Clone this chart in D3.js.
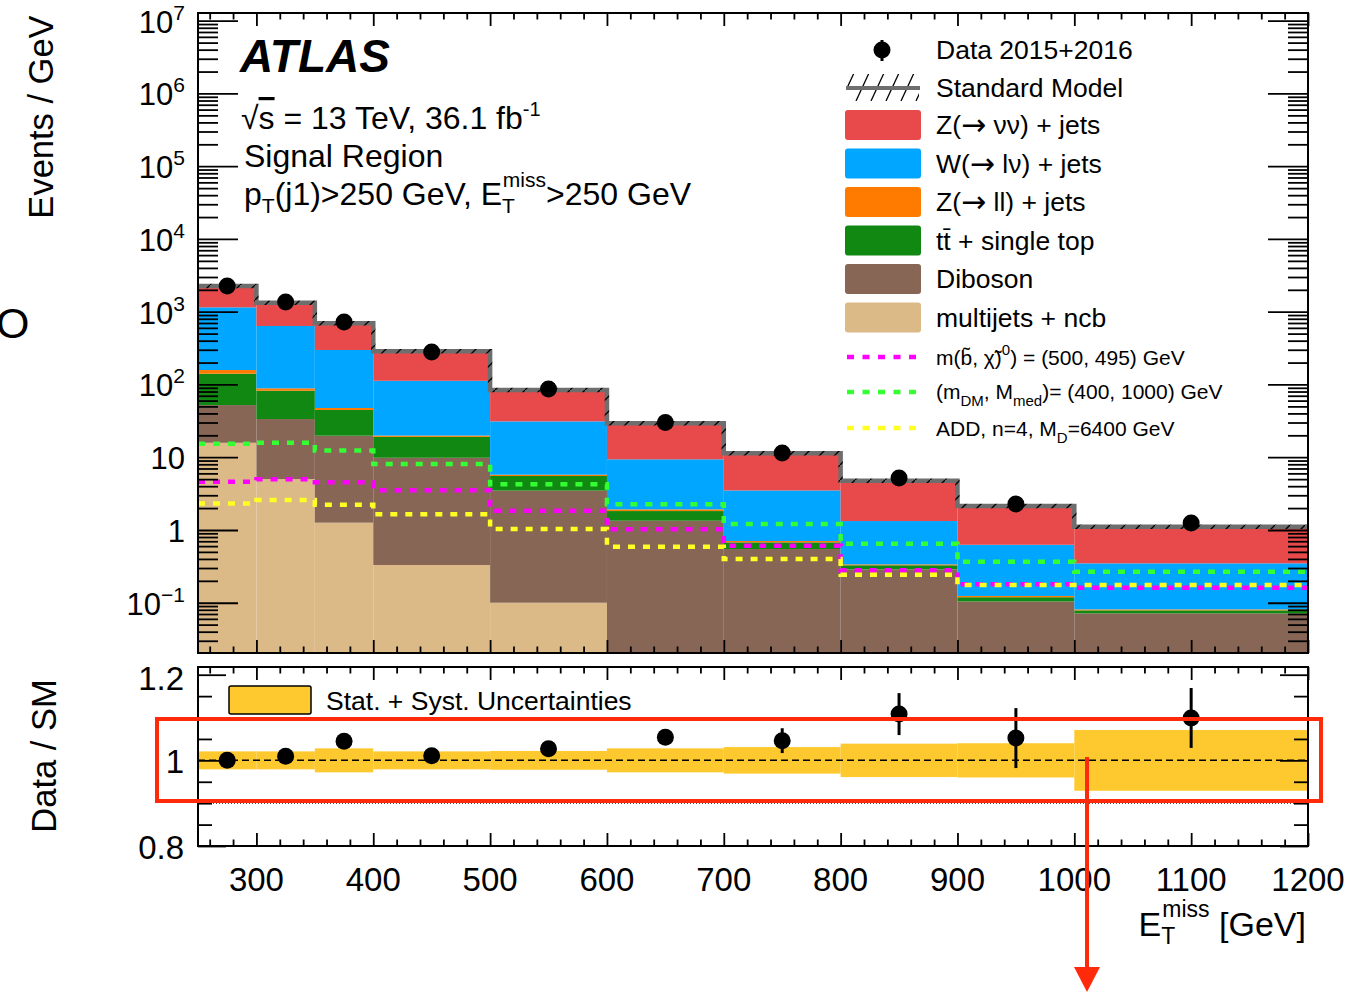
<!DOCTYPE html>
<html><head><meta charset="utf-8">
<script src="https://cdn.jsdelivr.net/npm/d3@7"></script>
<style>
body{margin:0;background:#fff}
svg{display:block}
text{font-family:"Liberation Sans",Arial,Helvetica,sans-serif;fill:#000}
</style>
</head><body>
<svg id="c" width="1349" height="992"></svg>
<script>
// ---------------- data ----------------
const binEdges   = [250,300,350,400,500,600,700,800,900,1000,1200];
const multijet   = [15.8,5.0,1.26,0.33,0.10,0,0,0,0,0];
const diboson    = [36.3,28.5,18.5,9.5,3.37,1.34,0.547,0.288,0.104,0.0714];
const ttbar      = [88.5,48.5,24.8,9.2,2.05,0.48,0.129,0.039,0.015,0.0071];
const zll        = [17.4,6.5,2.9,0.8,0.23,0.10,0.029,0.010,0.005,0.0025];
const wjets      = [991,548,250.5,92.5,25.35,7.43,2.79,0.99,0.502,0.267];
const znunu      = [1106,694,394,173.5,52.9,19.85,7.83,3.43,1.51,0.762];
const dataCounts = [2254,1360,721,279,86.5,30.1,11.4,5.18,2.27,1.25];
const sigSbottom = [4.6,4.97,4.52,3.51,1.84,1.02,0.607,0.279,0.179,0.161];
const sigDM      = [15.3,15.8,12.4,8.06,4.24,2.25,1.21,0.647,0.366,0.267];
const sigADD     = [2.32,2.58,2.22,1.64,1.03,0.589,0.398,0.243,0.175,0.175];
const dataRatio    = [1.000,1.0095,1.0445,1.011,1.027,1.054,1.046,1.108,1.052,1.099];
const dataRatioErr = [0.004,0.006,0.008,0.009,0.012,0.016,0.029,0.049,0.070,0.070];
const smUncert     = [0.021,0.021,0.028,0.021,0.022,0.028,0.031,0.039,0.040,0.071];
const xTickValues  = [300,400,500,600,700,800,900,1000,1100,1200];
const logTickExps  = [-1,0,1,2,3,4,5,6,7];
const ratioTickValues = [0.8,1.0,1.2];
const ratioTickLabels = ["0.8","1","1.2"];

const layerKeys   = ["multijet","diboson","ttbar","zll","wjets","znunu"];
const layerColors = {multijet:"#dcba88",diboson:"#876655",ttbar:"#118811",zll:"#ff7b00",wjets:"#00a6ff",znunu:"#e8494a"};
const layerSeries = {multijet,diboson,ttbar,zll,wjets,znunu};

// ---------------- layout ----------------
const svg = d3.select("#c");
const X0=198, X1=1308, UT=13, UB=653, RT=667, RB=846;
const x  = d3.scaleLinear().domain([250,1200]).range([X0,X1]);
const y  = d3.scaleLog().domain([Math.pow(10,-1.691),Math.pow(10,7.106)]).range([UB,UT]).clamp(true);
const yr = d3.scaleLinear().domain([0.8,1.218]).range([RB,RT]);

const defs = svg.append("defs");
const hp = defs.append("pattern").attr("id","hatch").attr("patternUnits","userSpaceOnUse")
  .attr("width",15).attr("height",15);
hp.append("rect").attr("width",15).attr("height",15).attr("fill","#6e6e6e");
hp.append("path").attr("d","M-2,17 L17,-2").attr("stroke","#000").attr("stroke-width",1.3);
const hl = defs.append("pattern").attr("id","hatchLeg").attr("patternUnits","userSpaceOnUse")
  .attr("width",15).attr("height",28).attr("y",73);
hl.append("path").attr("d","M1,28 L14,0").attr("stroke","#000").attr("stroke-width",1.3);

// ---------------- upper pad ----------------
const rows = binEdges.slice(0,-1).map((lo,i)=>{
  const r={lo,hi:binEdges[i+1]};
  layerKeys.forEach(k=>r[k]=layerSeries[k][i]);
  return r;
});
const stacked = d3.stack().keys(layerKeys)(rows);
const up = svg.append("g");
stacked.forEach(layer=>{
  up.append("g").selectAll("rect").data(layer).join("rect")
    .attr("x",d=>x(d.data.lo)).attr("width",d=>x(d.data.hi)-x(d.data.lo))
    .attr("y",d=>y(d[1]))
    .attr("height",d=>{const b=d[0]>0?y(d[0]):UB; return Math.max(0,b-y(d[1]));})
    .attr("fill",layerColors[layer.key]);
});

function stepPts(vals){
  const p = vals.map((v,i)=>[binEdges[i],v]);
  p.push([binEdges[binEdges.length-1],vals[vals.length-1]]);
  return p;
}
const stepLine = d3.line().x(d=>x(d[0])).y(d=>y(d[1])).curve(d3.curveStepAfter);

// SM total with hatched uncertainty
const smTotal = rows.map((r,i)=>layerKeys.reduce((s,k)=>s+r[k],0));
up.append("path").attr("d",stepLine(stepPts(smTotal))).attr("fill","none")
  .attr("stroke","url(#hatch)").attr("stroke-width",4.5);

// signal lines
[[sigDM,"#33ff33"],[sigSbottom,"#ff00ff"],[sigADD,"#ffff22"]].forEach(([vals,col])=>{
  up.append("path").attr("d",stepLine(stepPts(vals))).attr("fill","none")
    .attr("stroke",col).attr("stroke-width",4.5).attr("stroke-dasharray","7 8");
});

// data
up.append("g").selectAll("circle").data(dataCounts).join("circle")
  .attr("cx",(d,i)=>x((binEdges[i]+binEdges[i+1])/2)).attr("cy",d=>y(d)).attr("r",8.5).attr("fill","#000");

// ---------------- axes helpers ----------------
function styleAxis(g){ g.select(".domain").remove(); g.selectAll("line").attr("stroke","#000").attr("stroke-width",1.8); g.selectAll("text").remove(); }
const xMinor = d3.range(260,1200,20).filter(v=>v%100!==0);
function xTicks(yBottom,yTop,maj,min){
  svg.append("g").attr("transform",`translate(0,${yBottom})`).call(d3.axisBottom(x).tickValues(xTickValues).tickSize(-maj)).call(styleAxis);
  svg.append("g").attr("transform",`translate(0,${yBottom})`).call(d3.axisBottom(x).tickValues(xMinor).tickSize(-min)).call(styleAxis);
  svg.append("g").attr("transform",`translate(0,${yTop})`).call(d3.axisTop(x).tickValues(xTickValues).tickSize(-maj)).call(styleAxis);
  svg.append("g").attr("transform",`translate(0,${yTop})`).call(d3.axisTop(x).tickValues(xMinor).tickSize(-min)).call(styleAxis);
}
xTicks(UB,UT,13,6.5);
xTicks(RB,RT,13,6.5);

const logMajor = logTickExps.map(e=>Math.pow(10,e));
const logMinor = [];
for(let e=-2;e<=7;e++) for(let m=2;m<=9;m++){const v=m*Math.pow(10,e); if(v>=y.domain()[0]&&v<=y.domain()[1]) logMinor.push(v);}
[[d3.axisLeft,X0],[d3.axisRight,X1]].forEach(([ax,px])=>{
  svg.append("g").attr("transform",`translate(${px},0)`).call(ax(y).tickValues(logMajor).tickSize(-40)).call(styleAxis);
  svg.append("g").attr("transform",`translate(${px},0)`).call(ax(y).tickValues(logMinor).tickSize(-20)).call(styleAxis);
});

// ---------------- ratio pad ----------------
const rp = svg.append("g");
rp.append("g").selectAll("rect").data(smUncert).join("rect")
  .attr("x",(d,i)=>x(binEdges[i])).attr("width",(d,i)=>x(binEdges[i+1])-x(binEdges[i]))
  .attr("y",d=>yr(1+d)).attr("height",d=>yr(1-d)-yr(1+d)).attr("fill","#fec92f");
rp.append("line").attr("x1",X0).attr("x2",X1).attr("y1",yr(1)).attr("y2",yr(1))
  .attr("stroke","#000").attr("stroke-width",1.5).attr("stroke-dasharray","7 4");
[0.9,1.1].forEach(v=>rp.append("line").attr("x1",X0).attr("x2",X1).attr("y1",yr(v)).attr("y2",yr(v))
  .attr("stroke","#000").attr("stroke-width",1).attr("stroke-dasharray","1 2"));
rp.append("g").selectAll("line").data(dataRatio).join("line")
  .attr("x1",(d,i)=>x((binEdges[i]+binEdges[i+1])/2)).attr("x2",(d,i)=>x((binEdges[i]+binEdges[i+1])/2))
  .attr("y1",(d,i)=>yr(d-dataRatioErr[i])).attr("y2",(d,i)=>yr(d+dataRatioErr[i]))
  .attr("stroke","#000").attr("stroke-width",3);
rp.append("g").selectAll("circle").data(dataRatio).join("circle")
  .attr("cx",(d,i)=>x((binEdges[i]+binEdges[i+1])/2)).attr("cy",d=>yr(d)).attr("r",8.5).attr("fill","#000");

const rMinor = d3.range(0.85,1.2,0.05).filter(v=>Math.abs(v-1)>0.01);
[[d3.axisLeft,X0],[d3.axisRight,X1]].forEach(([ax,px])=>{
  svg.append("g").attr("transform",`translate(${px},0)`).call(ax(yr).tickValues(ratioTickValues).tickSize(-28)).call(styleAxis);
  svg.append("g").attr("transform",`translate(${px},0)`).call(ax(yr).tickValues(rMinor).tickSize(-14)).call(styleAxis);
});

// frames
[[UT,UB],[RT,RB]].forEach(([t,b])=>svg.append("rect").attr("x",X0).attr("y",t).attr("width",X1-X0).attr("height",b-t)
  .attr("fill","none").attr("stroke","#000").attr("stroke-width",2));

// ---------------- labels ----------------
const FS=32;
svg.append("g").selectAll("text").data(xTickValues).join("text")
  .attr("x",d=>x(d)).attr("y",891).attr("text-anchor","middle").attr("font-size",33).text(d=>d);
logTickExps.forEach(e=>{
  const t=svg.append("text").attr("x",185).attr("y",y(Math.pow(10,e))+12).attr("text-anchor","end").attr("font-size",31);
  if(e===0) t.text("1"); else if(e===1) t.text("10");
  else { t.text("10"); t.append("tspan").attr("dy",-13).attr("font-size",21).text(e<0?"\u2212"+(-e):e); }
});
ratioTickValues.forEach((v,i)=>svg.append("text").attr("x",184).attr("y",yr(v)+(v>1.1?15:13)).attr("text-anchor","end")
  .attr("font-size",33).text(ratioTickLabels[i]));

svg.append("text").attr("transform","translate(53,117) rotate(-90)").attr("text-anchor","middle").attr("font-size",34.5).text("Events / GeV");
svg.append("text").attr("transform","translate(56,756) rotate(-90)").attr("text-anchor","middle").attr("font-size",34.5).text("Data / SM");
svg.append("text").attr("x",-4).attr("y",338).attr("font-size",43).text("O");

const xt = svg.append("text").attr("x",1306).attr("y",936).attr("text-anchor","end").attr("font-size",34);
xt.append("tspan").text("E");
xt.append("tspan").attr("dy",8).attr("font-size",23).text("T");
xt.append("tspan").attr("dx",-13).attr("dy",-27).attr("font-size",23).text("miss");
xt.append("tspan").attr("dy",19).text(" [GeV]");

svg.append("text").attr("x",240).attr("y",72).attr("font-size",46).attr("font-weight","bold").attr("font-style","italic").text("ATLAS");
const t1 = svg.append("text").attr("x",241).attr("y",129).attr("font-size",FS);
t1.append("tspan").text("\u221A");
t1.append("tspan").attr("text-decoration","overline").text("s");
t1.append("tspan").text(" = 13 TeV, 36.1 fb");
t1.append("tspan").attr("dy",-13).attr("font-size",20).text("-1");
svg.append("text").attr("x",244).attr("y",167).attr("font-size",FS).text("Signal Region");
const t3 = svg.append("text").attr("x",244).attr("y",205).attr("font-size",FS);
t3.append("tspan").text("p");
t3.append("tspan").attr("dy",8).attr("font-size",21).text("T");
t3.append("tspan").attr("dy",-8).text("(j1)>250 GeV, E");
t3.append("tspan").attr("dy",8).attr("font-size",21).text("T");
t3.append("tspan").attr("dx",-12).attr("dy",-26).attr("font-size",21).text("miss");
t3.append("tspan").attr("dy",18).text(">250 GeV");

// ---------------- legend ----------------
const lg = svg.append("g");
lg.append("line").attr("x1",882).attr("x2",882).attr("y1",40).attr("y2",61).attr("stroke","#000").attr("stroke-width",3);
lg.append("circle").attr("cx",882).attr("cy",50).attr("r",8.5).attr("fill","#000");
lg.append("text").attr("x",936).attr("y",59).attr("font-size",26.5).text("Data 2015+2016");
lg.append("rect").attr("x",847).attr("y",74).attr("width",72).attr("height",27).attr("fill","url(#hatchLeg)");
lg.append("line").attr("x1",846).attr("x2",920).attr("y1",88).attr("y2",88).attr("stroke","#6e6e6e").attr("stroke-width",4);
lg.append("text").attr("x",936).attr("y",97).attr("font-size",26.5).text("Standard Model");
const boxLabels = [["Z(","\u2192"," \u03BD\u03BD) + jets"],["W(","\u2192"," l\u03BD) + jets"],["Z(","\u2192"," ll) + jets"],["tt\u0304 + single top"],["Diboson"],["multijets + ncb"]];
const boxKeys = ["znunu","wjets","zll","ttbar","diboson","multijet"];
boxLabels.forEach((lab,i)=>{
  const cy = 125 + i*38.5;
  lg.append("rect").attr("x",845).attr("y",cy-15).attr("width",76).attr("height",30).attr("rx",3)
    .attr("fill",layerColors[boxKeys[i]]);
  const t = lg.append("text").attr("x",936).attr("y",cy+9).attr("font-size",26.5);
  lab.forEach((s,j)=>{
    const ts = t.append("tspan").text(s);
    if(s==="\u2192") ts.attr("font-family","DejaVu Sans").attr("font-size",30).attr("dy",1);
    if(j===2) ts.attr("dy",-1);
  });
});
const sigCols = ["#ff00ff","#33ff33","#ffff22"];
const sigYs = [357,392,428];
sigCols.forEach((c,i)=>lg.append("line").attr("x1",847).attr("x2",916).attr("y1",sigYs[i]).attr("y2",sigYs[i])
  .attr("stroke",c).attr("stroke-width",4.5).attr("stroke-dasharray","7 8.5"));
const s1 = lg.append("text").attr("x",936).attr("y",365).attr("font-size",21);
s1.append("tspan").text("m(b\u0303, \u03C7\u0303)");
s1.append("tspan").attr("dy",-10).attr("font-size",15).text("0");
s1.append("tspan").attr("dy",10).text(") = (500, 495) GeV");
const s2 = lg.append("text").attr("x",936).attr("y",399).attr("font-size",21);
s2.append("tspan").text("(m");
s2.append("tspan").attr("dy",7).attr("font-size",15).text("DM");
s2.append("tspan").attr("dy",-7).text(", M");
s2.append("tspan").attr("dy",7).attr("font-size",15).text("med");
s2.append("tspan").attr("dy",-7).text(")= (400, 1000) GeV");
const s3 = lg.append("text").attr("x",936).attr("y",436).attr("font-size",21);
s3.append("tspan").text("ADD, n=4, M");
s3.append("tspan").attr("dy",7).attr("font-size",15).text("D");
s3.append("tspan").attr("dy",-7).text("=6400 GeV");

// ratio legend
svg.append("rect").attr("x",229).attr("y",686).attr("width",82).attr("height",28).attr("rx",2)
  .attr("fill","#fec92f").attr("stroke","#000").attr("stroke-width",1.5);
svg.append("text").attr("x",326).attr("y",710).attr("font-size",26.5).text("Stat. + Syst. Uncertainties");

// ---------------- red annotation ----------------
const red="#ff2a0a";
svg.append("rect").attr("x",157).attr("y",719).attr("width",1164).attr("height",82)
  .attr("fill","none").attr("stroke",red).attr("stroke-width",4);
svg.append("line").attr("x1",1087).attr("x2",1087).attr("y1",757).attr("y2",972).attr("stroke",red).attr("stroke-width",4);
svg.append("path").attr("d","M1074,967 L1100,967 L1087,992 Z").attr("fill",red);
</script>
</body></html>
